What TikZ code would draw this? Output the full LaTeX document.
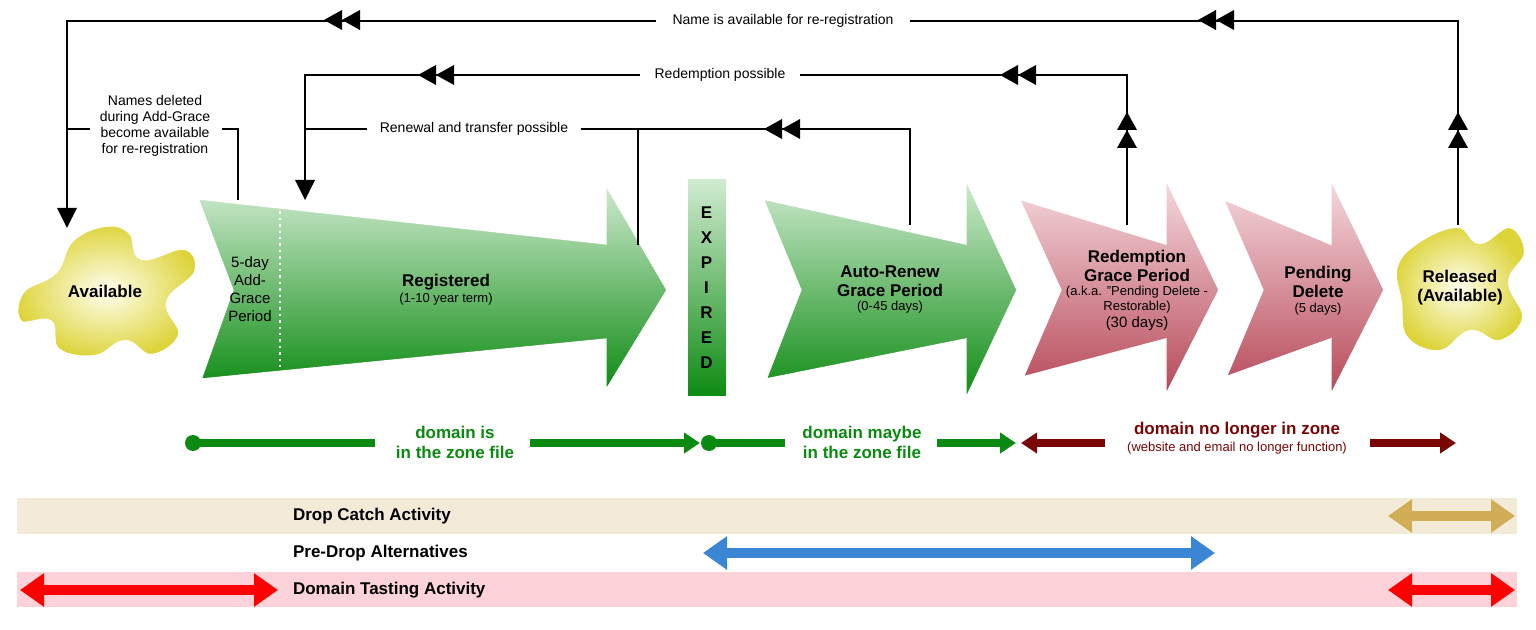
\documentclass[tikz,border=0pt]{standalone}
\usepackage{fontspec}
\setmainfont{Liberation Sans}
\usetikzlibrary{arrows.meta,calc}
\definecolor{gtop}{HTML}{D2ECD2}
\definecolor{gbot}{HTML}{0B8A10}
\definecolor{ptop}{HTML}{F6DCE0}
\definecolor{pbot}{HTML}{B64656}
\definecolor{blobin}{HTML}{FFFFF0}
\definecolor{blobout}{HTML}{DDD43A}
\definecolor{zgreen}{HTML}{0A8A10}
\definecolor{zred}{HTML}{7A0505}
\definecolor{tanband}{HTML}{F3EBD8}
\definecolor{pinkband}{HTML}{FDD2D8}
\definecolor{goldarr}{HTML}{D1AE55}
\definecolor{bluearr}{HTML}{3A86D4}
\begin{document}
\begin{tikzpicture}[x=0.5pt,y=-0.5pt,
  lbl/.style={font=\fontsize{7}{8}\selectfont,inner sep=1pt,align=center},
  ln/.style={line width=0.6pt,black},
  garrow/.style={top color=gtop,bottom color=gbot,draw=white,line width=1.5pt},
  parrow/.style={top color=ptop,bottom color=pbot,draw=white,line width=1.5pt},
  blob/.style={inner color=blobin,outer color=blobout,draw=white,line width=2pt},
  big/.style={font=\bfseries\fontsize{8.5}{9.5}\selectfont,align=center},
  small/.style={font=\fontsize{6.5}{7.5}\selectfont,align=center},
  zone/.style={line width=4pt,-{Triangle[width=10pt,length=8pt]}},
  band/.style={line width=5pt,{Triangle[width=16pt,length=12pt]}-{Triangle[width=16pt,length=12pt]}},
  bandtxt/.style={font=\bfseries\fontsize{8.5}{10}\selectfont,anchor=west},
  tri/.style={fill=black}]
\useasboundingbox (0,0) rectangle (1536,630);
% bands
\fill[tanband] (17,498) rectangle (1517,534);
\fill[pinkband] (17,572) rectangle (1517,607);
\node[bandtxt] (dc) at (286,516) {Drop Catch Activity};
\node[bandtxt] (pd) at (286,553) {Pre-Drop Alternatives};
\node[bandtxt] (dt) at (286,590) {Domain Tasting Activity};
\coordinate (g1) at (1388,516); \coordinate (g2) at (1515,516);
\draw[band,goldarr] (g1) -- (g2);
\coordinate (b1) at (703,553); \coordinate (b2) at (1215,553);
\draw[band,bluearr] (b1) -- (b2);
\coordinate (r1) at (20,590); \coordinate (r2) at (278,590);
\draw[band,red] (r1) -- (r2);
\coordinate (r3) at (1388,590); \coordinate (r4) at (1515,590);
\draw[band,red] (r3) -- (r4);
% blobs
\draw[blob] plot[smooth cycle,tension=0.7] coordinates {(105,225) (130,232) (142,258) (185,248) (196,272) (168,302) (180,335) (152,356) (125,342) (95,357) (58,350) (50,322) (20,322) (22,292) (55,272) (72,240)};
\node[big] (avail) at (105,291) {Available};
\draw[blob] plot[smooth cycle,tension=0.7] coordinates {(1420,240) (1458,226) (1480,242) (1510,226) (1526,252) (1510,282) (1524,318) (1500,342) (1470,332) (1440,352) (1406,338) (1400,302) (1396,266)};
\node[big] (rel) at (1460,288) {Released\\(Available)};
% arrows
\draw[garrow] (197,198) -- (605,243) -- (605,182) -- (668,290) -- (605,393) -- (605,340) -- (200,380) -- (232,290) -- cycle;
\draw[white,line width=1.2pt,dotted] (280,205) -- (280,374);
\node[lbl,font=\fontsize{7.5}{9}\selectfont] (agp) at (250,289) {5-day\\Add-\\Grace\\Period};
\node[big] (reg) at (446,282) {Registered};
\node[small] (regt) at (446,299) {(1-10 year term)};
\draw[garrow] (686,178) rectangle (727,398);
\node[font=\bfseries\fontsize{8.5}{12.5}\selectfont,align=center] (exp) at (706.5,288) {E\\X\\P\\I\\R\\E\\D};
\draw[garrow] (762,198) -- (965,243) -- (965,176) -- (1018,290) -- (965,402) -- (965,340) -- (765,380) -- (800,290) -- cycle;
\node[big] (arg) at (890,281) {Auto-Renew\\Grace Period};
\node[small] (argt) at (890,307) {(0-45 days)};
\draw[parrow] (1018,198) -- (1165,243) -- (1165,176) -- (1220,290) -- (1165,398) -- (1165,340) -- (1022,378) -- (1060,290) -- cycle;
\node[big] (rgp) at (1137,266) {Redemption\\Grace Period};
\node[small] (rgpt) at (1137,300) {(a.k.a. "Pending Delete -\\Restorable)};
\node[small,font=\fontsize{7.5}{8.5}\selectfont] (rgpd) at (1137,324) {(30 days)};
\draw[parrow] (1222,198) -- (1330,243) -- (1330,176) -- (1385,290) -- (1330,398) -- (1330,340) -- (1225,378) -- (1262,290) -- cycle;
\node[big] (pdl) at (1318,282) {Pending\\Delete};
\node[small] (pdlt) at (1318,309) {(5 days)};
% top connectors
\node[lbl,inner xsep=8pt] (t1) at (783,21) {Name is available for re-registration};
\node[lbl,inner xsep=7pt] (t2) at (720,75) {Redemption possible};
\node[lbl,inner xsep=6pt] (t3) at (474,129) {Renewal and transfer possible};
\node[lbl] (t4) at (155,126) {Names deleted\\during Add-Grace\\become available\\for re-registration};
\coordinate (a1) at (67,210); \coordinate (a2) at (1458,225);
\draw[ln] (t1.west) -| (a1);
\draw[ln] (t1.east) -| (a2);
\coordinate (c1) at (305,190); \coordinate (c2) at (1127,225);
\draw[ln] (t2.west) -| (c1);
\draw[ln] (t2.east) -| (c2);
\coordinate (d1) at (305,129); \coordinate (d2) at (910,225); \coordinate (d3) at (638,245);
\draw[ln] (t3.west) -- (d1);
\draw[ln] (t3.east) -| (d2);
\draw[ln] (638,129) -- (d3);
\coordinate (e1) at (238,200); \coordinate (e2) at (67,129); \coordinate (e3) at (90,129); \coordinate (e4) at (222,129);
\draw[ln] (e4) -| (e1);
\draw[ln] (e2) -- (e3);
% arrowheads down
\fill (67,228) -- (57,208) -- (77,208) -- cycle;
\fill (305,200) -- (295,180) -- (315,180) -- cycle;
% double left arrowheads
\foreach \x/\y in {324/20,1198/20,418/75,1000/75,764/129}{
  \fill (\x,\y) -- ++(18,-10) -- ++(0,20) -- cycle;
  \fill (\x+18,\y) -- ++(18,-10) -- ++(0,20) -- cycle;}
% double up arrowheads
\foreach \x in {1127,1458}{
  \fill (\x,112) -- ++(10,18) -- ++(-20,0) -- cycle;
  \fill (\x,130) -- ++(10,18) -- ++(-20,0) -- cycle;}
% zone lines
\node[font=\bfseries\fontsize{8.5}{10}\selectfont,text=zgreen,align=center] (z1) at (455,442) {domain is\\in the zone file};
\node[font=\bfseries\fontsize{8.5}{10}\selectfont,text=zgreen,align=center] (z2) at (862,442) {domain maybe\\in the zone file};
\node[font=\bfseries\fontsize{8.5}{10}\selectfont,text=zred] (z3) at (1237,430) {domain no longer in zone};
\node[font=\fontsize{6.5}{8}\selectfont,text=zred] (z3b) at (1237,448) {(website and email no longer function)};
\coordinate (p1) at (193,443); \coordinate (p2) at (375,443); \coordinate (p3) at (530,443); \coordinate (p4) at (700,443);
\fill[zgreen] (p1) circle (8);
\draw[zgreen,line width=4pt] (p1) -- (p2);
\draw[zgreen,zone] (p3) -- (p4);
\coordinate (q1) at (709,443); \coordinate (q2) at (785,443); \coordinate (q3) at (937,443); \coordinate (q4) at (1016,443);
\fill[zgreen] (q1) circle (8);
\draw[zgreen,line width=4pt] (q1) -- (q2);
\draw[zgreen,zone] (q3) -- (q4);
\coordinate (s1) at (1105,443); \coordinate (s2) at (1021,443); \coordinate (s3) at (1370,443); \coordinate (s4) at (1456,443);
\draw[zred,zone] (s1) -- (s2);
\draw[zred,zone] (s3) -- (s4);
\end{tikzpicture}
\end{document}
